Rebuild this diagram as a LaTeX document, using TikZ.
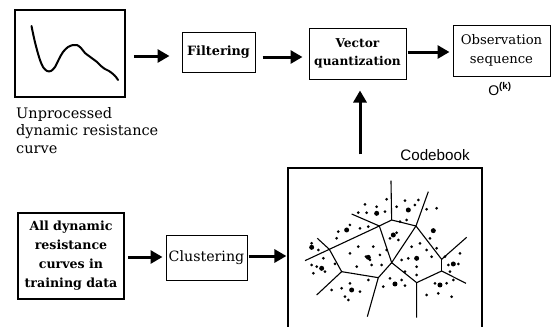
\documentclass[tikz,border=0pt]{standalone}
\usepackage{fontspec}
\setmainfont{DejaVu Serif}
\setsansfont{Liberation Sans}
\usetikzlibrary{arrows.meta}
\tikzset{
  blk/.style={draw, line width=1pt, inner sep=0pt, align=center, font=\fontsize{12}{18}\selectfont},
  bigarrow/.style={line width=3pt, -{Triangle[length=12pt,width=13pt]}},
  vline/.style={line width=1.1pt},
}
\begin{document}
\begin{tikzpicture}[x=1pt,y=-1pt]
\useasboundingbox (0,0) rectangle (558,327);
% nodes
\node[blk, line width=1.6pt, minimum width=110pt, minimum height=87pt] (curvebox) at (70,53.5) {};
\node[anchor=north west, align=left, inner sep=0pt, font=\fontsize{14.5}{17.5}\selectfont] (caption) at (16,107) {Unprocessed\\dynamic resistance\\curve};
\node[blk, minimum width=73pt, minimum height=40pt, font=\bfseries\fontsize{12.8}{18}\selectfont] (filt) at (218.5,52) {Filtering};
\node[blk, minimum width=97pt, minimum height=51pt, font=\bfseries\fontsize{12.2}{18}\selectfont] (vq) at (357.5,53.5) {Vector\\quantization};
\node[blk, minimum width=97pt, minimum height=51pt, font=\fontsize{13.2}{19}\selectfont] (obs) at (501.5,50.5) {Observation\\sequence};
\node[inner sep=0pt, font=\sffamily\fontsize{14}{16}\selectfont] (ok) at (500,89) {O\textsuperscript{\textbf{(k)}}};
\node[blk, line width=2pt, minimum width=106pt, minimum height=86pt, font=\bfseries\fontsize{12.6}{19}\selectfont] (alldata) at (71,256) {All dynamic\\resistance\\curves in\\training data};
\node[blk, minimum width=81pt, minimum height=45pt, font=\fontsize{14.2}{18}\selectfont] (clus) at (206.5,257.5) {Clustering};
\node[draw, line width=1.2pt, minimum width=194pt, minimum height=180pt, inner sep=0pt] (cb) at (385,258) {};
\node[inner sep=0pt, font=\sffamily\fontsize{15.2}{16}\selectfont] (cblabel) at (435,155) {Codebook};
% arrows
\draw[bigarrow, shorten <=8pt, shorten >=12pt] (curvebox.east |- 0,56) -- (filt.west |- 0,56);
\draw[bigarrow, shorten <=7pt, shorten >=6pt] (filt.east |- 0,57) -- (vq.west |- 0,57);
\draw[bigarrow, shorten <=1pt, shorten >=3pt] (vq.east |- 0,52) -- (obs.west |- 0,52);
\draw[bigarrow, shorten <=13pt, shorten >=11pt] ([xshift=2.5pt]vq.south |- cb.north) -- ([xshift=2.5pt]vq.south);
\draw[bigarrow, shorten <=3pt, shorten >=3pt] (alldata.east |- 0,257) -- (clus.west |- 0,257);
\draw[bigarrow, shorten <=1pt, shorten >=1pt] (clus.east |- 0,256) -- (cb.west |- 0,256);
% raw curve
\draw[line width=2pt, line join=round, line cap=round] plot[smooth, tension=0.5] coordinates {
 (31.5,26) (34,38) (37,50) (40,60) (43,67) (47,71) (51,71) (55,67) (59,59) (63,52) (68,47) (73,45) (77,45) (81,48) (85,53) (89,56) (93,59) (97,62) (101,66) (105,69) (109,71) (113,74) (116,77) (118,80)};
% voronoi
\begin{scope}[shift={(280,140)}, x=0.3333pt, y=-0.3333pt, vline]
\coordinate (A) at (298,258);
\coordinate (B) at (335,240);
\coordinate (C) at (408,258);
\coordinate (D) at (148,328);
\coordinate (E) at (335,368);
\coordinate (F) at (185,395);
\coordinate (G) at (295,413);
\coordinate (H) at (410,428);
\coordinate (I) at (485,358);
\coordinate (J) at (485,393);
\draw (B) -- (333,122);
\draw (C) -- (445,155);
\draw (215,222) -- (A) -- (B) -- (C) -- (I) -- (560,292);
\draw (75,362) -- (D) -- (A) -- (E) -- (C);
\draw (112,295) -- (D) -- (F) -- (110,465);
\draw (F) -- (G) -- (262,530);
\draw (G) -- (E) -- (H) -- (410,533);
\draw (H) -- (J) -- (558,430);
\draw (J) -- (I);
\foreach \p in {(255,193),(315,215),(320,178),(350,200),(375,182),(405,195),(415,180),(440,208),(470,205),(235,218),(260,218),(380,240),
(175,275),(170,295),(210,255),(240,265),(265,260),(350,278),(330,295),(355,300),(258,350),(270,360),(235,320),(210,340),(280,320),(300,345),(305,375),(320,330),
(450,295),(470,325),(385,355),(395,320),(420,310),(440,330),(455,350),(365,360),(410,380),
(95,310),(115,330),(110,380),(95,375),(135,395),(100,400),(130,355),(165,372),
(155,450),(185,445),(210,430),(240,455),(195,470),(205,480),(265,420),(275,375),(230,380),
(375,437),(330,415),(310,440),(365,420),(375,395),(410,405),
(465,430),(500,430),(440,465),(475,460),(515,470),(505,375),(535,372),(510,395),(540,340),(495,350),(520,420),(290,200),(360,245)}
  \fill \p circle[radius=4.5];
\foreach \p in {(290,220),(385,210),(200,270),(340,285),(265,352),(460,272),(410,355),(95,322),(125,385),(215,450),(345,432),(480,435),(520,372)}
  \fill \p circle[radius=7.5];
\end{scope}
\end{tikzpicture}
\end{document}
